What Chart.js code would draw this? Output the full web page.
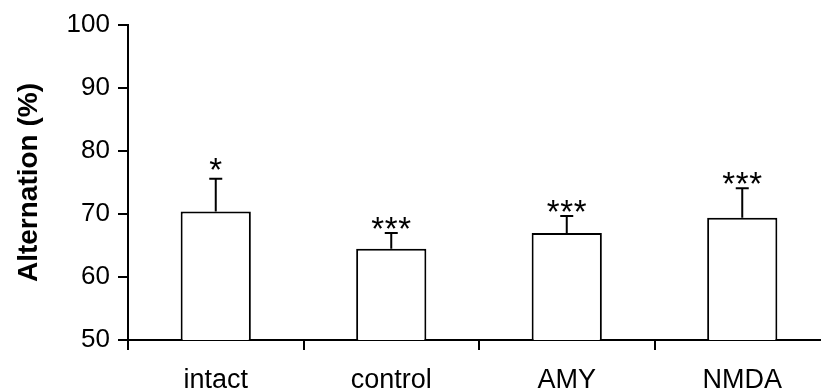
<!DOCTYPE html>
<html>
<head>
<meta charset="utf-8">
<script src="https://cdn.jsdelivr.net/npm/chart.js@4/dist/chart.umd.min.js"></script>
<style>
  html, body { margin: 0; padding: 0; background: #fff; overflow: hidden; }
  #wrap { width: 821px; height: 391px; overflow: hidden; position: relative; }
  canvas { display: block; }
</style>
</head>
<body>
<div id="wrap"><canvas id="c" width="832" height="391"></canvas></div>
<script>
const categories = ['intact', 'control', 'AMY', 'NMDA'];
const means = [70.4, 64.5, 67.0, 69.4];
const sems = [5.2, 2.5, 2.7, 4.7];
const stars = ['*', '***', '***', '***'];
const yTicks = [50, 60, 70, 80, 90, 100];

const FONT = "'Liberation Sans', Arial, sans-serif";

const errorBarsPlugin = {
  id: 'errorBars',
  afterDatasetsDraw(chart) {
    const ctx = chart.ctx;
    const meta = chart.getDatasetMeta(0);
    const y = chart.scales.y;
    ctx.save();
    ctx.strokeStyle = '#000';
    ctx.lineWidth = 2;
    ctx.fillStyle = '#000';
    meta.data.forEach((bar, i) => {
      const x = bar.x;
      const yTop = y.getPixelForValue(means[i] + sems[i]);
      const yBase = y.getPixelForValue(means[i]);
      ctx.beginPath();
      ctx.moveTo(x, yBase);
      ctx.lineTo(x, yTop);
      ctx.moveTo(x - 6.5, yTop);
      ctx.lineTo(x + 6.5, yTop);
      ctx.stroke();
      // significance stars
      const s = stars[i];
      const n = s.length;
      const gap = 13.5;
      const size = 33;
      const centerY = yTop - (n === 1 ? 17 : 12);
      ctx.font = size + 'px ' + FONT;
      ctx.textAlign = 'center';
      ctx.textBaseline = 'alphabetic';
      for (let k = 0; k < n; k++) {
        const sx = x + (k - (n - 1) / 2) * gap;
        ctx.fillText('*', sx, centerY + 0.57 * size);
      }
    });
    ctx.restore();
  }
};

new Chart(document.getElementById('c'), {
  type: 'bar',
  data: {
    labels: categories,
    datasets: [{
      data: means,
      backgroundColor: '#ffffff',
      borderColor: '#000000',
      borderWidth: 2,
      borderSkipped: 'bottom',
      barPercentage: 0.4,
      categoryPercentage: 1.0
    }]
  },
  options: {
    responsive: false,
    animation: false,
    devicePixelRatio: 1,
    layout: { padding: { left: 0, right: 2, top: 25, bottom: 0 } },
    plugins: { legend: { display: false }, tooltip: { enabled: false } },
    scales: {
      x: {
        grid: {
          offset: true,
          drawOnChartArea: false,
          drawTicks: true,
          tickLength: 10,
          color: '#000',
          lineWidth: 2
        },
        border: { display: true, color: '#000', width: 2 },
        ticks: {
          color: '#000',
          font: { family: FONT, size: 27 },
          padding: 14,
          maxRotation: 0
        },
        afterFit(scale) { scale.height = 51; }
      },
      y: {
        min: 50,
        max: 100,
        afterBuildTicks(scale) { scale.ticks = yTicks.map(v => ({ value: v })); },
        grid: {
          drawOnChartArea: false,
          drawTicks: true,
          tickLength: 10,
          color: '#000',
          lineWidth: 2
        },
        border: { display: true, color: '#000', width: 2 },
        ticks: {
          color: '#000',
          font: { family: FONT, size: 26 },
          padding: 8
        },
        title: {
          display: true,
          text: 'Alternation (%)',
          color: '#000',
          font: { family: FONT, size: 28, weight: 'bold' },
          padding: { top: 12, bottom: 0 }
        },
        afterFit(scale) { scale.width = 128; }
      }
    }
  },
  plugins: [errorBarsPlugin]
});
</script>
</body>
</html>
